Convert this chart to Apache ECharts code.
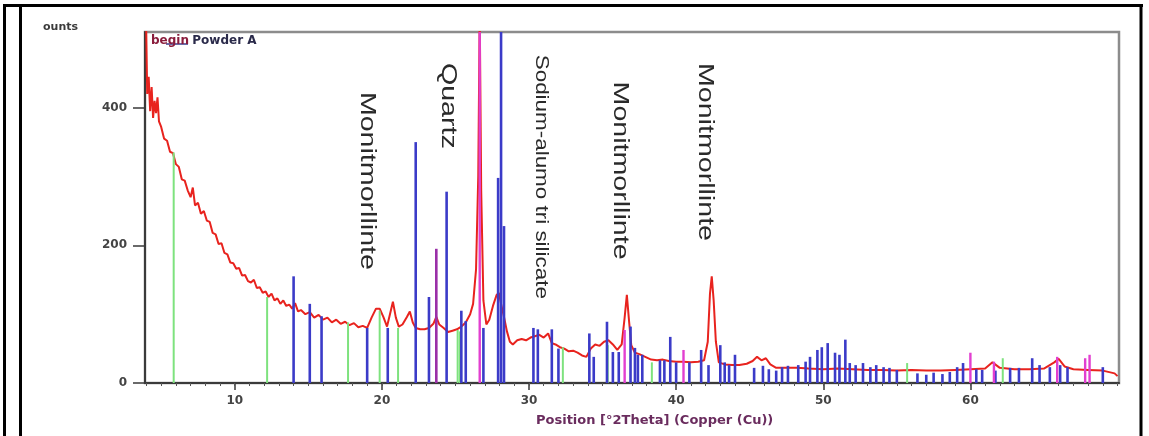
<!DOCTYPE html>
<html>
<head>
<meta charset="utf-8">
<script src="https://cdn.jsdelivr.net/npm/echarts@6/dist/echarts.min.js"></script>
<style>
  html, body { margin: 0; padding: 0; background: #fff; }
  #chart { width: 1149px; height: 436px; }
</style>
</head>
<body>
<div id="chart"></div>
<script>
// measured scan (red)
const scanPos = [3.95, 4.05, 4.15, 4.25, 4.35, 4.45, 4.55, 4.65, 4.75, 4.85, 5.0, 5.2, 5.4, 5.6, 5.8, 6.0, 6.2, 6.4, 6.6, 6.8,
  7.0, 7.15, 7.3, 7.5, 7.7, 7.9, 8.1, 8.3, 8.5, 8.7, 8.9, 9.1, 9.3, 9.5, 9.7, 9.9, 10.1, 10.3, 10.5, 10.7,
  10.9, 11.1, 11.3, 11.5, 11.7, 11.9, 12.1, 12.3, 12.5, 12.7, 12.9, 13.1, 13.3, 13.5, 13.7, 13.9, 14.1, 14.3, 14.5, 14.8,
  15.1, 15.4, 15.7, 16.0, 16.3, 16.6, 16.9, 17.2, 17.5, 17.8, 18.1, 18.4, 18.7, 19.0, 19.3, 19.6, 19.85, 20.1, 20.35, 20.55,
  20.75, 20.95, 21.15, 21.4, 21.7, 21.9, 22.1, 22.3, 22.6, 22.9, 23.2, 23.5, 23.7, 23.9, 24.2, 24.5, 24.8, 25.1, 25.4, 25.7,
  26.0, 26.2, 26.4, 26.55, 26.65, 26.75, 26.9, 27.1, 27.3, 27.55, 27.8, 27.95, 28.1, 28.3, 28.5, 28.7, 28.9, 29.2, 29.5, 29.8,
  30.1, 30.4, 30.7, 31.0, 31.3, 31.55, 31.8, 32.1, 32.4, 32.7, 33.0, 33.3, 33.6, 33.9, 34.2, 34.5, 34.8, 35.1, 35.4, 35.7,
  36.0, 36.3, 36.5, 36.65, 36.8, 36.95, 37.2, 37.5, 37.9, 38.3, 38.7, 39.1, 39.5, 40.0, 40.5, 41.0, 41.5, 41.9, 42.15, 42.3,
  42.42, 42.55, 42.7, 42.9, 43.3, 43.8, 44.3, 44.8, 45.2, 45.5, 45.8, 46.1, 46.4, 46.8, 47.5, 48.2, 49.0, 50.0, 51.0, 52.0,
  53.0, 54.0, 55.0, 56.0, 57.0, 58.0, 59.0, 60.0, 61.0, 61.5, 62.0, 63.0, 64.0, 65.0, 65.7, 66.0, 66.4, 67.0, 68.0, 69.0,
  69.8, 70.0];
const scanCounts = [560, 420, 445, 395, 430, 385, 410, 392, 415, 380, 372, 355, 352, 336, 334, 318, 314, 296, 294, 280,
  270, 284, 258, 262, 246, 250, 236, 234, 218, 216, 202, 203, 189, 187, 175, 174, 166, 167, 156, 157,
  148, 146, 150, 138, 139, 131, 133, 125, 130, 120, 123, 115, 120, 112, 114, 108, 116, 104, 106, 100,
  103, 95, 99, 92, 95, 88, 92, 86, 89, 84, 87, 81, 83, 80, 95, 108, 108, 96, 82, 100,
  118, 95, 82, 85, 96, 104, 88, 80, 78, 78, 80, 86, 96, 85, 80, 74, 76, 78, 82, 88,
  100, 115, 165, 300, 540, 280, 120, 85, 92, 112, 128, 131, 115, 96, 75, 60, 56, 62, 64, 62,
  66, 68, 70, 66, 72, 58, 56, 52, 50, 46, 47, 44, 40, 38, 50, 56, 54, 60, 62, 56,
  48, 56, 95, 128, 90, 55, 44, 42, 38, 34, 33, 34, 32, 31, 31, 30, 31, 33, 60, 130,
  155, 120, 60, 30, 27, 26, 26, 28, 32, 38, 33, 36, 27, 22, 22, 22, 21, 20, 21, 20,
  19, 19, 18, 19, 18, 18, 19, 20, 21, 30, 22, 20, 20, 21, 30, 35, 24, 20, 19, 18,
  14, 10];

// reference pattern sticks
const bluePos = [14.0, 15.1, 15.9, 19.0, 20.4, 22.3, 23.2, 24.4, 25.4, 25.7, 26.9, 27.9, 28.1, 28.3, 30.3, 30.6, 31.55, 32.0,
  34.1, 34.4, 35.3, 35.7, 36.1, 36.9, 37.2, 37.4, 37.7, 38.9, 39.2, 39.6, 40.0, 40.9, 41.7, 42.2, 43.0, 43.3, 43.6, 44.0,
  45.3, 45.9, 46.3, 46.8, 47.2, 47.6, 48.3, 48.8, 49.1, 49.6, 49.9, 50.3, 50.8, 51.1, 51.5, 51.8, 52.2, 52.7, 53.2, 53.6,
  54.1, 54.5, 55.0, 56.4, 57.0, 57.5, 58.1, 58.6, 59.1, 59.5, 60.4, 60.8, 61.7, 62.7, 63.3, 64.2, 64.7, 65.4, 66.1, 66.6, 69.0];
const blueHeight = [155, 115, 97, 80, 80, 350, 125, 278, 105, 90, 80, 298, 600, 228, 80, 78, 78, 50,
  72, 38, 89, 45, 45, 82, 51, 41, 41, 33, 33, 67, 30, 30, 48, 26, 55, 30, 26, 41,
  22, 25, 20, 18, 23, 25, 26, 31, 38, 48, 52, 58, 44, 41, 63, 29, 26, 29, 23, 26,
  23, 22, 19, 14, 12, 15, 13, 16, 23, 29, 20, 19, 18, 22, 22, 36, 26, 23, 26, 23, 23];
const magentaPos = [26.65, 36.5, 40.5, 60.0, 61.6, 65.9, 67.8, 68.1];
const magentaHeight = [600, 77, 48, 44, 31, 38, 36, 41];
const purplePos = [23.7];
const purpleHeight = [195];
const greenPos = [5.85, 12.2, 17.7, 19.85, 21.1, 25.15, 25.3, 32.3, 35.35, 38.35, 55.7, 62.2];
const greenHeight = [335, 125, 88, 105, 80, 77, 75, 52, 55, 30, 29, 36];

// phase annotations
const phaseNames = ["Monitmorllinte", "Quartz", "Sodium-alumo tri silicate", "Monitmorllinte", "Monitmorllinte"];
const phasePos = [19.0, 24.5, 30.8, 36.2, 41.95];
const phaseTop = [423, 465, 477, 438, 465];

const xLabels = [10, 20, 30, 40, 50, 60];
const yLabels = [0, 200, 400];
const xMinorTicks = [];
for (let v = 4; v <= 70; v++) xMinorTicks.push(v);

const zip = (a, b) => a.map((v, i) => [v, b[i]]);

function stickSeries(name, pos, height, color, width) {
  return {
    name,
    type: "custom",
    clip: true,
    z: 3,
    data: zip(pos, height),
    renderItem: (params, api) => {
      const top = api.coord([api.value(0), api.value(1)]);
      const base = api.coord([api.value(0), 0]);
      return {
        type: "line",
        shape: { x1: base[0], y1: base[1], x2: top[0], y2: top[1] },
        style: { stroke: color, lineWidth: width }
      };
    }
  };
}

const chart = echarts.init(document.getElementById("chart"));
const font = "DejaVu Sans";

const option = {
  animation: false,
  backgroundColor: "#fff",
  title: {
    text: "ounts",
    left: 38,
    top: 17,
    textStyle: { fontFamily: font, fontSize: 11, fontWeight: "bold", color: "#3a3a3a" }
  },
  grid: {
    left: 145, right: 30, top: 32, bottom: 53,
    show: true, borderColor: "#8c8c8c", borderWidth: 2.5
  },
  xAxis: [{
    type: "value", min: 3.9, max: 70.1,
    axisLine: { lineStyle: { color: "#3a3a3a", width: 2 } },
    axisTick: { length: 7, lineStyle: { color: "#3a3a3a", width: 1.5 }, customValues: xLabels },
    axisLabel: { customValues: xLabels, margin: 12, fontFamily: font, fontSize: 12, fontWeight: "bold", color: "#444" },
    splitLine: { show: false }
  }, {
    type: "value", min: 3.9, max: 70.1, position: "bottom",
    axisLine: { show: false },
    axisTick: { length: 3, lineStyle: { color: "#555", width: 1 }, customValues: xMinorTicks },
    axisLabel: { show: false },
    splitLine: { show: false }
  }],
  yAxis: {
    type: "value", min: 0, max: 510,
    axisLine: { show: true, lineStyle: { color: "#3a3a3a", width: 2 } },
    axisTick: { show: true, length: 12, lineStyle: { color: "#3a3a3a", width: 1.5 }, customValues: yLabels },
    axisLabel: { customValues: yLabels, margin: 18, fontFamily: font, fontSize: 12, fontWeight: "bold", color: "#444" },
    splitLine: { show: false }
  },
  graphic: [
    { type: "line", shape: { x1: 4.5, y1: 4, x2: 4.5, y2: 436 }, style: { stroke: "#000", lineWidth: 3 } },
    { type: "line", shape: { x1: 20.5, y1: 5, x2: 20.5, y2: 436 }, style: { stroke: "#000", lineWidth: 3 } },
    { type: "line", shape: { x1: 3, y1: 5.5, x2: 1143, y2: 5.5 }, style: { stroke: "#000", lineWidth: 3 } },
    { type: "line", shape: { x1: 1141, y1: 4, x2: 1141, y2: 436 }, style: { stroke: "#000", lineWidth: 3 } },
    {
      type: "text", left: 151, top: 35, z: 10,
      style: {
        text: "{a|begin} {b|Powder A}",
        rich: {
          a: { fontFamily: font, fontSize: 12, fontWeight: "bold", fill: "#8a1c3c" },
          b: { fontFamily: font, fontSize: 12, fontWeight: "bold", fill: "#2a2a4a" }
        }
      }
    },
    { type: "line", shape: { x1: 166, y1: 44, x2: 188, y2: 44 }, style: { stroke: "#3a3a8a", lineWidth: 1.5 } },
    {
      type: "text", z: 10, left: 536, top: 414,
      style: { text: "Position [\u00b02Theta] (Copper (Cu))", fontFamily: font, fontSize: 13, fontWeight: "bold", fill: "#6a2c5e" }
    }
  ],
  series: [
    {
      name: "scan",
      type: "line",
      data: zip(scanPos, scanCounts),
      showSymbol: false,
      clip: true,
      z: 2,
      lineStyle: { color: "#e8231e", width: 2 }
    },
    stickSeries("green", greenPos, greenHeight, "#7ee27e", 2),
    stickSeries("blue", bluePos, blueHeight, "#3b3bc8", 2.6),
    stickSeries("purple", purplePos, purpleHeight, "#9a2fa8", 2.6),
    stickSeries("magenta", magentaPos, magentaHeight, "#e23fd0", 2.4),
    {
      name: "phases",
      type: "custom",
      clip: false,
      z: 5,
      data: zip(phasePos, phaseTop),
      renderItem: (params, api) => {
        const p = api.coord([api.value(0), api.value(1)]);
        const small = phaseNames[params.dataIndex].length > 16;
        return {
          type: "text",
          x: p[0], y: p[1],
          rotation: -Math.PI / 2,
          scaleX: small ? 1.18 : 1.3,
          style: {
            text: phaseNames[params.dataIndex],
            fontFamily: "Liberation Sans",
            fontSize: small ? 19 : 22,
            fill: "#2a2a2a",
            align: "left",
            verticalAlign: "middle"
          }
        };
      }
    }
  ]
};

chart.setOption(option);
window.addEventListener("resize", () => chart.resize());
</script>
</body>
</html>
